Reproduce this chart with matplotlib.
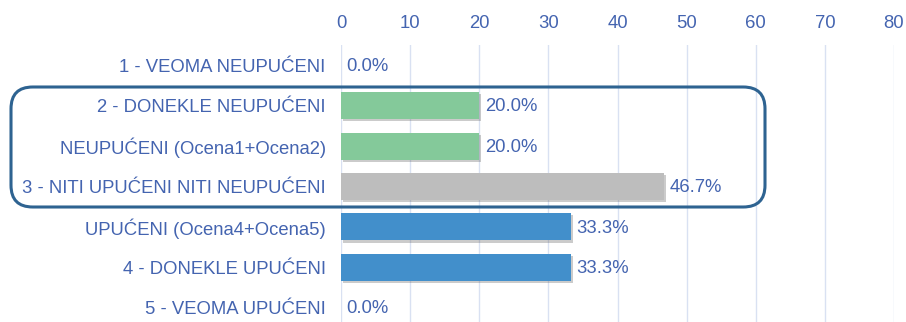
import matplotlib.pyplot as plt
import matplotlib.patheffects as pe
from matplotlib.patches import FancyBboxPatch

plt.rcParams['font.family'] = ['Liberation Sans', 'DejaVu Sans']

categories = [
    "1 - VEOMA NEUPUĆENI",
    "2 - DONEKLE NEUPUĆENI",
    "NEUPUĆENI (Ocena1+Ocena2)",
    "3 - NITI UPUĆENI NITI NEUPUĆENI",
    "UPUĆENI (Ocena4+Ocena5)",
    "4 - DONEKLE UPUĆENI",
    "5 - VEOMA UPUĆENI",
]
values = [0.0, 20.0, 20.0, 46.7, 33.3, 33.3, 0.0]
colors = ["#84C99A", "#84C99A", "#84C99A", "#BDBDBD", "#428FCB", "#428FCB", "#428FCB"]
xticks = [0, 10, 20, 30, 40, 50, 60, 70, 80]

txt = "#4464B0"
fs = 13.3

fig = plt.figure(figsize=(9.06, 3.22), dpi=100)
ax = fig.add_axes([341 / 906, -6 / 322, 553 / 906, 1 - 45 / 322 + 6 / 322])

y = list(range(len(categories)))
bars = ax.barh(y, values, height=0.67, color=colors, zorder=3)
for b in bars:
    b.set_path_effects([pe.SimplePatchShadow(offset=(1.5, -1.5), shadow_rgbFace="#555555", alpha=0.3),
                        pe.Normal()])

for yi, v in zip(y, values):
    ax.text(v + 0.8, yi + 0.03, f"{v:.1f}%", va="center", ha="left", fontsize=fs, color=txt, zorder=4)

ax.set_xlim(0, 80)
ax.set_ylim(len(categories) - 0.5, -0.5)
ax.set_yticks(y)
ax.set_yticklabels(categories, fontsize=fs, color=txt)
ax.set_xticks(xticks)
ax.xaxis.tick_top()
ax.tick_params(axis="x", labelsize=fs, labelcolor=txt, length=0, pad=9)
ax.tick_params(axis="y", length=0, pad=11)
ax.grid(axis="x", color="#D9E1F2", linewidth=1, zorder=0)
for s in ax.spines.values():
    s.set_visible(False)

# rounded frame around the middle group
box = FancyBboxPatch((11 / 906, 1 - 207 / 322), (765 - 11) / 906, (207 - 87) / 322,
                     boxstyle="round,pad=0,rounding_size=0.024",
                     transform=fig.transFigure, fill=False,
                     edgecolor="#2E6391", linewidth=2.2, zorder=10,
                     mutation_aspect=906 / 322)
fig.patches.append(box)

fig.savefig("out.png", dpi=100)
